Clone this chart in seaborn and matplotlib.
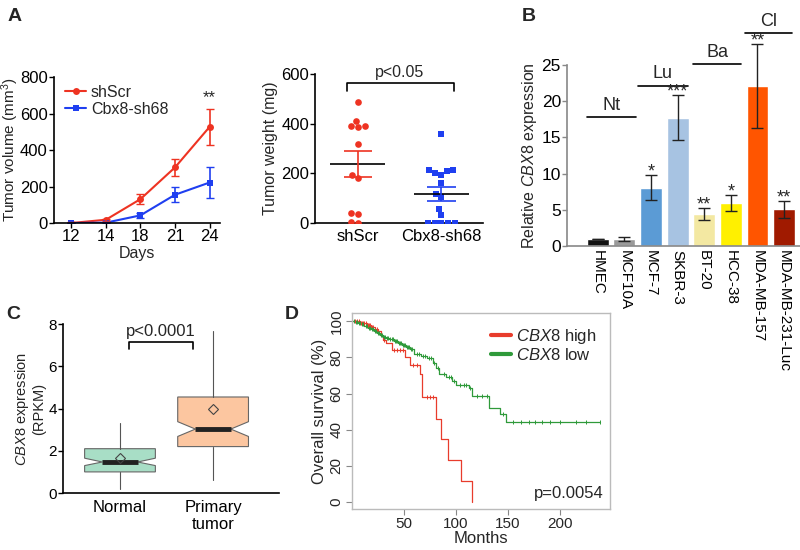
import numpy as np
import pandas as pd
import seaborn as sns
import matplotlib.pyplot as plt

sns.set_theme(style='ticks')
plt.rcParams['font.family'] = ['Liberation Sans', 'DejaVu Sans']
plt.rcParams['mathtext.fontset'] = 'custom'
plt.rcParams['mathtext.rm'] = 'Liberation Sans'
plt.rcParams['mathtext.it'] = 'Liberation Sans:italic'

RED = '#ee3322'
BLUE = '#1f3ff0'

# ---- panel A (growth curve) ----
days = ['12', '14', '18', '21', '24']
scr_mean = [0, 18, 131, 305, 527]
scr_err = [3, 6, 27, 45, 100]
sh68_mean = [0, 2, 42, 155, 222]
sh68_err = [2, 3, 12, 40, 85]

# ---- panel A (tumor weight) ----
weight_scr = [489, 411, 392, 385, 390, 318, 195, 182, 40, 36, 5, 2]
weight_sh68 = [359, 213, 210, 213, 195, 200, 162, 118, 105, 58, 34, 0, 0, 0, 0, 0]
weight_groups = ['shScr', 'Cbx8-sh68']

# ---- panel B ----
cell_lines = ['HMEC', 'MCF10A', 'MCF-7', 'SKBR-3', 'BT-20', 'HCC-38', 'MDA-MB-157', 'MDA-MB-231-Luc']
cbx8_expr = [0.95, 1.0, 8.05, 17.7, 4.4, 5.9, 22.1, 5.07]
cbx8_err = [0.0, 0.3, 1.7, 3.1, 0.8, 1.1, 5.8, 1.15]
cbx8_stars = ['', '', '*', '***', '**', '*', '**', '**']
bar_colors = ['#111111', '#9a9a9a', '#5b9bd5', '#a7c3e2', '#f3e8a2', '#fff000', '#ff5500', '#a01a00']
subtypes = ['Nt', 'Lu', 'Ba', 'Cl']
subtype_span = [(-0.4, 1.42), (1.5, 3.39), (3.58, 5.4), (5.55, 7.3)]
subtype_level = [17.8, 22.1, 25.1, 29.4]

# ---- panel C (box stats) ----
box_labels = ['Normal', 'Primary\ntumor']
box_q1 = [1.0, 2.2]
box_med = [1.47, 3.03]
box_q3 = [2.1, 4.55]
box_lo = [0.2, 0.6]
box_hi = [3.3, 7.7]
box_mean = [1.65, 4.0]
box_cilo = [1.3, 2.68]
box_cihi = [1.65, 3.38]
box_colors = ['#a8dec6', '#fcc6a0']

# ---- panel D (Kaplan-Meier) ----
high_t = [0, 8, 14, 18, 22, 25, 28, 30, 33, 38, 51, 56, 65, 67, 81, 86, 92, 104.5, 115.5]
high_s = [100, 99, 98, 97, 96, 94.5, 92, 89.5, 88, 84, 80, 76, 71, 58, 46, 35, 23, 11.5, 0]
high_cens = [3, 5, 7, 9, 10, 11, 12, 13, 15, 16, 17, 19, 20, 24, 31, 40, 43, 46, 49, 59, 62, 72, 75, 78]
low_t = [0, 3, 6, 9, 12, 15, 18, 21, 24, 27, 30, 33, 36, 40, 44, 48, 52, 56, 60, 66, 72, 78, 81, 84,
         90, 96, 100, 112, 115, 132, 142, 148, 238]
low_s = [100, 99.5, 99, 98.5, 97.5, 96.5, 95.5, 94.5, 93.5, 92.5, 91.5, 91, 90, 89, 88, 87, 86, 84.5, 82,
         81, 79.5, 77, 74, 71, 69, 67, 64.5, 63, 58.5, 52, 48.5, 44.5, 44.5]
low_cens = [2, 4, 5, 7, 8, 10, 11, 13, 14, 16, 17, 19, 20, 22, 23, 25, 26, 28, 29, 31, 32, 34, 35, 37,
            38, 39, 41, 42, 43, 45, 46, 47, 49, 50, 51, 53, 54, 55, 57, 58, 62, 64, 68, 70, 74, 76, 79,
            83, 88, 93, 95, 98, 104, 108, 110, 113, 120, 125, 130, 145, 155, 162, 170, 176, 183, 190,
            200, 215, 225, 238]

fig = plt.figure(figsize=(8, 5.5), dpi=100)
LAB = 11.5

def style(ax, tick=12):
    for s in ['top', 'right']:
        ax.spines[s].set_visible(False)
    for s in ['left', 'bottom']:
        ax.spines[s].set_linewidth(1.2)
        ax.spines[s].set_color('black')
    ax.tick_params(labelsize=tick, length=3.5, width=1, colors='black', pad=1)

# A left
ax1 = fig.add_axes([0.0675, 0.5945, 0.2075, 0.2655])
xpos = np.arange(len(days))
sns.lineplot(x=xpos, y=scr_mean, ax=ax1, color=RED, marker='o', markersize=5, markeredgewidth=0, lw=1.5, label='shScr')
sns.lineplot(x=xpos, y=sh68_mean, ax=ax1, color=BLUE, marker='s', markersize=4.5, markeredgewidth=0, lw=1.5, label='Cbx8-sh68')
ax1.errorbar(xpos, scr_mean, yerr=scr_err, fmt='none', ecolor=RED, capsize=3, lw=1.2)
ax1.errorbar(xpos, sh68_mean, yerr=sh68_err, fmt='none', ecolor=BLUE, capsize=3, lw=1.2)
ax1.set_xlim(-0.5, 4.3)
ax1.set_ylim(0, 800)
ax1.set_yticks([0, 200, 400, 600, 800])
ax1.set_xticks(xpos)
ax1.set_xticklabels(days)
style(ax1)
ax1.set_xlabel('Days', fontsize=LAB, labelpad=1)
ax1.set_ylabel('Tumor volume (mm$^3$)', fontsize=11)
ax1.yaxis.set_label_coords(-0.2, 0.5)
ax1.text(4, 800 * 0.86, '**', ha='center', va='center', fontsize=12)
ax1.legend(loc='upper left', frameon=False, fontsize=LAB, handlelength=1.3, handletextpad=0.3,
           labelspacing=0.1, borderaxespad=0.1, bbox_to_anchor=(0.02, 1.0))

# A right
ax2 = fig.add_axes([0.394, 0.5945, 0.21, 0.271])
dfw = pd.DataFrame({'group': ['shScr'] * len(weight_scr) + ['Cbx8-sh68'] * len(weight_sh68),
                    'weight': weight_scr + weight_sh68})
sns.swarmplot(data=dfw[dfw.group == 'shScr'], x='group', y='weight', order=weight_groups, color=RED,
              marker='o', size=4.8, ax=ax2)
sns.swarmplot(data=dfw[dfw.group == 'Cbx8-sh68'], x='group', y='weight', order=weight_groups, color=BLUE,
              marker='s', size=4.5, ax=ax2)
for i, (vals, c) in enumerate([(weight_scr, RED), (weight_sh68, BLUE)]):
    m = np.mean(vals)
    se = np.std(vals, ddof=1) / np.sqrt(len(vals))
    ax2.hlines(m, i - 0.33, i + 0.33, color='black', lw=1.2, zorder=5)
    ax2.hlines([m - se, m + se], i - 0.17, i + 0.17, color=c, lw=1.2, zorder=5)
    ax2.vlines(i, m - se, m + se, color=c, lw=1.2, zorder=5)
ax2.plot([-0.13, -0.13, 1.15, 1.15], [530, 564, 564, 530], color='black', lw=1.2, clip_on=False)
ax2.text(0.5, 574, 'p<0.05', ha='center', va='bottom', fontsize=LAB)
ax2.set_xlim(-0.51, 1.5)
ax2.set_ylim(0, 600)
ax2.set_yticks([0, 200, 400, 600])
style(ax2, tick=12)
ax2.set_xlabel('')
ax2.set_ylabel('Tumor weight (mg)', fontsize=LAB, labelpad=2)
ax2.tick_params(axis='x', length=0, pad=4)

# B
ax3 = fig.add_axes([0.709, 0.5527, 0.291, 0.329])
sns.barplot(x=cell_lines, y=cbx8_expr, hue=cell_lines, palette=bar_colors, legend=False,
            width=0.82, saturation=1, ax=ax3)
ax3.errorbar(np.arange(len(cell_lines)), cbx8_expr, yerr=cbx8_err, fmt='none', ecolor='#222222',
             capsize=4, lw=1, clip_on=False)
for i, st in enumerate(cbx8_stars):
    if st:
        ax3.text(i, cbx8_expr[i] + cbx8_err[i] - 0.15, st, ha='center', va='baseline', fontsize=13,
                 clip_on=False)
for name, (x0, x1), lev in zip(subtypes, subtype_span, subtype_level):
    ax3.plot([x0, x1], [lev, lev], color='black', lw=1.2, clip_on=False)
    ax3.text((x0 + x1) / 2, lev + 0.5, name, ha='center', va='bottom', fontsize=13)
ax3.set_xlim(-1.15, 7.6)
ax3.set_ylim(0, 25)
ax3.set_yticks([0, 5, 10, 15, 20, 25])
ax3.set_xticks(np.arange(len(cell_lines)))
ax3.set_xticklabels(cell_lines, rotation=270)
style(ax3, tick=12.5)
ax3.set_ylabel(r'Relative $\it{CBX8}$ expression', fontsize=LAB, labelpad=2)
ax3.spines['left'].set_color('#888888')
ax3.spines['bottom'].set_color('#888888')
ax3.tick_params(axis='x', length=0, labelsize=11, pad=3)
ax3.tick_params(axis='y', color='#888888')

# C
ax4 = fig.add_axes([0.079, 0.1036, 0.27, 0.307])
stats = []
for i in range(2):
    stats.append({'label': box_labels[i], 'q1': box_q1[i], 'med': box_med[i], 'q3': box_q3[i],
                  'whislo': box_lo[i], 'whishi': box_hi[i], 'mean': box_mean[i],
                  'cilo': box_cilo[i], 'cihi': box_cihi[i], 'fliers': []})
bp = ax4.bxp(stats, positions=[0, 1], widths=0.76, shownotches=True, showmeans=True, showcaps=False,
             patch_artist=True, showfliers=False,
             boxprops={'edgecolor': '#666666', 'lw': 0.8},
             whiskerprops={'color': '#555555', 'lw': 0.8},
             medianprops={'color': '#222222', 'lw': 3.5},
             meanprops={'marker': 'D', 'markerfacecolor': 'none', 'markeredgecolor': '#444444',
                        'markersize': 5.5, 'markeredgewidth': 0.8})
for patch, c in zip(bp['boxes'], box_colors):
    patch.set_facecolor(c)
ax4.plot([0.1, 0.1, 0.78, 0.78], [6.8, 7.15, 7.15, 6.8], color='black', lw=1.2)
ax4.text(0.44, 7.3, 'p<0.0001', ha='center', va='bottom', fontsize=12)
ax4.set_xlim(-0.61, 1.71)
ax4.set_ylim(0, 8)
ax4.set_yticks([0, 2, 4, 6, 8])
style(ax4, tick=11)
ax4.set_ylabel('$\\it{CBX8}$ expression\n(RPKM)', fontsize=10.5, labelpad=2, linespacing=1.1)
ax4.tick_params(axis='x', length=0, pad=5, labelsize=12)

# D
ax5 = fig.add_axes([0.44, 0.0745, 0.3225, 0.356])
KM_RED = '#e83c2c'
KM_GREEN = '#2f9a3a'
sns.lineplot(x=high_t, y=high_s, ax=ax5, color=KM_RED, lw=0.9, drawstyle='steps-post',
             estimator=None, sort=False, legend=False)
sns.lineplot(x=low_t, y=low_s, ax=ax5, color=KM_GREEN, lw=0.9, drawstyle='steps-post',
             estimator=None, sort=False, legend=False)
for t, s, cens, c in [(high_t, high_s, high_cens, KM_RED), (low_t, low_s, low_cens, KM_GREEN)]:
    idx = np.searchsorted(t, cens, side='right') - 1
    ax5.plot(cens, np.array(s)[idx], '|', color=c, ms=3, mew=0.7)
ax5.plot([], [], color=KM_RED, lw=3, label=r'$\it{CBX8}$ high')
ax5.plot([], [], color=KM_GREEN, lw=3, label=r'$\it{CBX8}$ low')
ax5.legend(loc='upper right', frameon=False, fontsize=12, handlelength=1.2, handletextpad=0.3,
           labelspacing=0.1, borderaxespad=0.4)
ax5.text(0.975, 0.04, 'p=0.0054', transform=ax5.transAxes, ha='right', va='bottom', fontsize=12)
ax5.set_xlim(0, 248)
ax5.set_ylim(-4, 104.5)
ax5.set_xticks([50, 100, 150, 200])
ax5.set_yticks([0, 20, 40, 60, 80, 100])
ax5.tick_params(labelsize=11, length=4, width=0.8, color='#888888', pad=2)
for lab in ax5.get_yticklabels():
    lab.set_rotation(90)
    lab.set_va('center')
ax5.set_xlabel('Months', fontsize=12, labelpad=0)
ax5.set_ylabel('Overall survival (%)', fontsize=12, labelpad=2)
for s in ax5.spines.values():
    s.set_color('#bbbbbb')
    s.set_linewidth(1)

# panel letters
for letter, (px, py) in zip('ABCD', [(8, 8), (522, 8), (6, 306), (285, 306)]):
    fig.text(px / 800, 1 - py / 550, letter, fontsize=14, fontweight='bold', va='top', ha='left')

fig.savefig('out.png', dpi=100)
